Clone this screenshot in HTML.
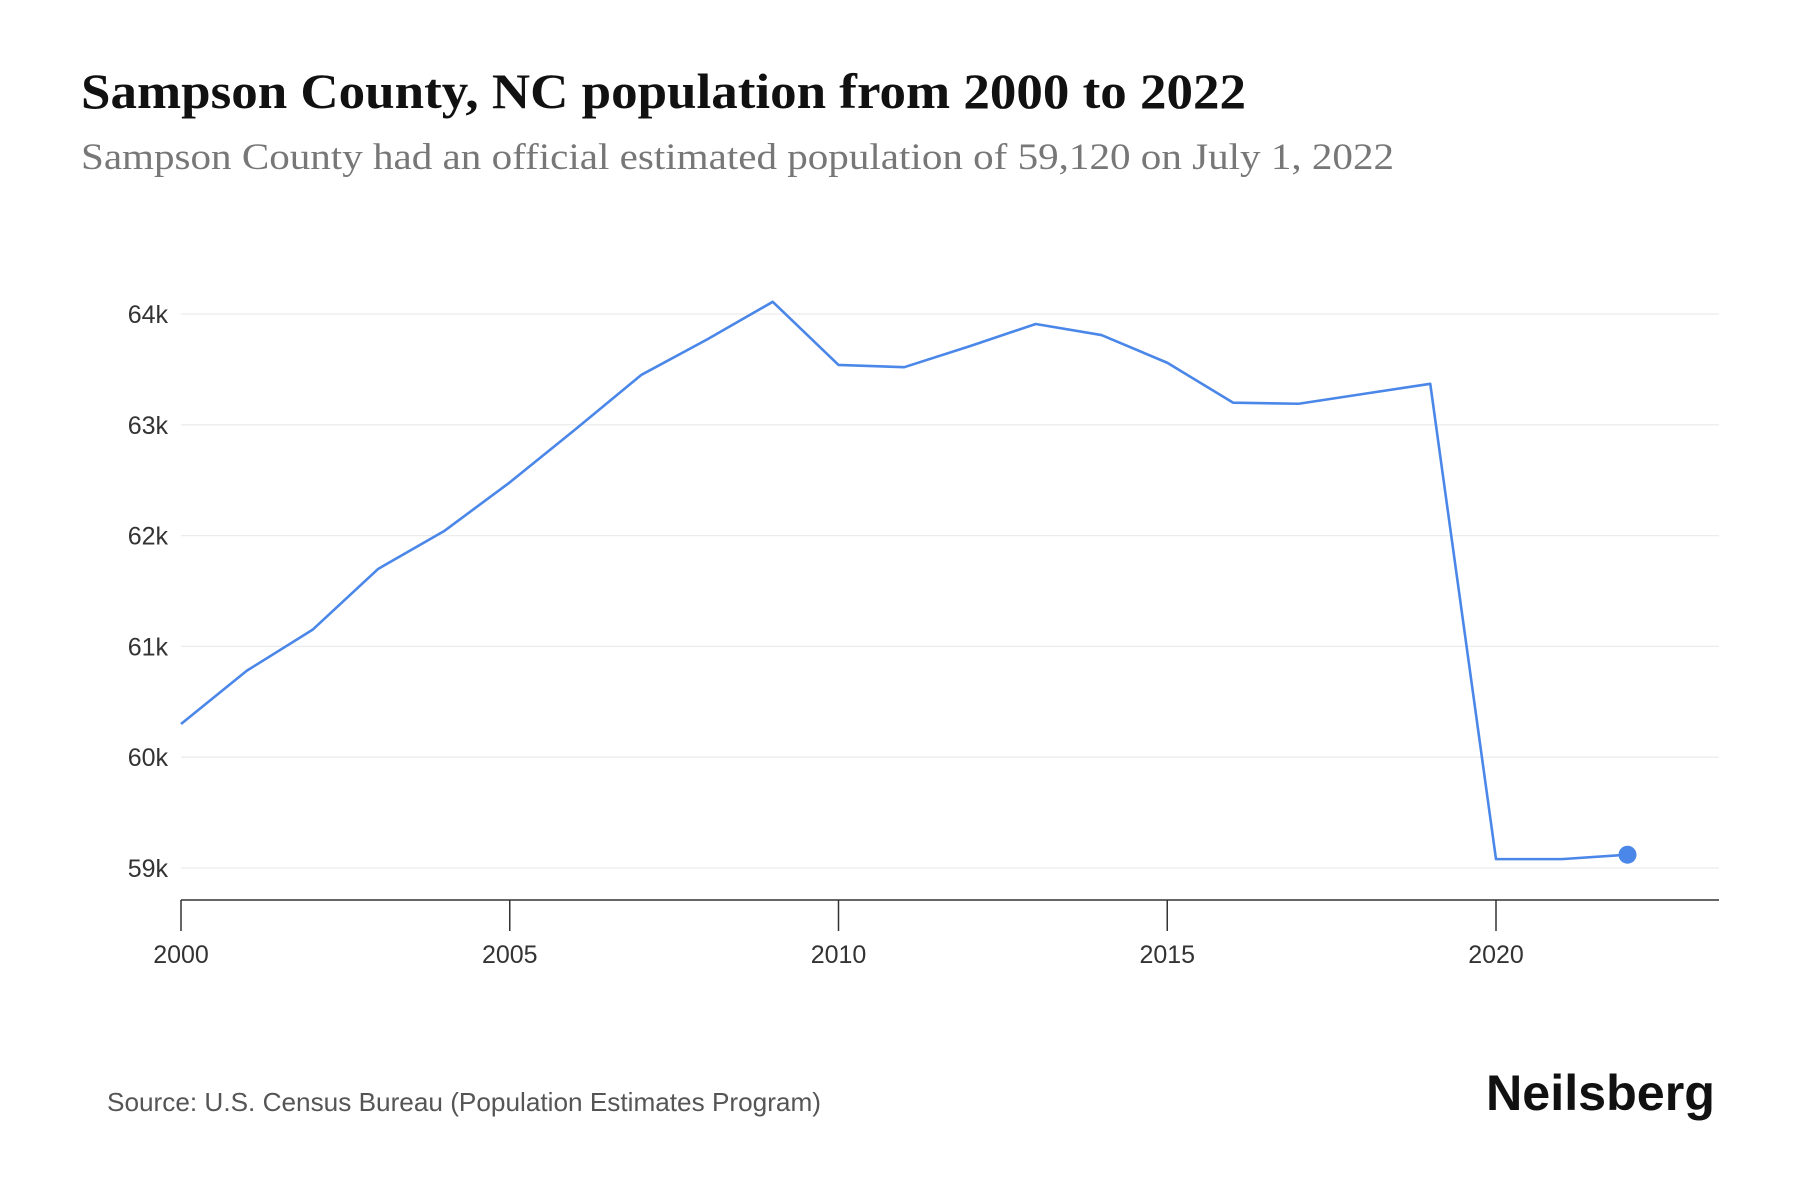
<!DOCTYPE html>
<html><head><meta charset="utf-8"><style>
body{margin:0;background:#fff;width:1800px;height:1200px;overflow:hidden;}
svg{display:block}
</style></head><body>
<svg width="1800" height="1200">
<text x="81" y="108" font-family="Liberation Serif, serif" font-weight="bold" font-size="50" fill="#111" textLength="1165" lengthAdjust="spacingAndGlyphs">Sampson County, NC population from 2000 to 2022</text>
<text x="81" y="169" font-family="Liberation Serif, serif" font-size="37" fill="#777" textLength="1313" lengthAdjust="spacingAndGlyphs">Sampson County had an official estimated population of 59,120 on July 1, 2022</text>
<g id="grid"></g><g id="yt"></g><g id="xt"></g><g id="plot"></g>
<text x="107" y="1111" font-family="Liberation Sans, sans-serif" font-size="26" fill="#555" textLength="714" lengthAdjust="spacingAndGlyphs">Source: U.S. Census Bureau (Population Estimates Program)</text>
<text x="1486" y="1110" font-family="Liberation Sans, sans-serif" font-weight="bold" font-size="50" fill="#111" textLength="229" lengthAdjust="spacingAndGlyphs">Neilsberg</text>
</svg>
<script>
const years=[2000,2001,2002,2003,2004,2005,2006,2007,2008,2009,2010,2011,2012,2013,2014,2015,2016,2017,2018,2019,2020,2021,2022];
const population=[60300,60780,61150,61700,62040,62480,62960,63450,63770,64110,63540,63520,63710,63910,63810,63560,63200,63190,63280,63370,59080,59080,59120];
const yTicks=[59000,60000,61000,62000,63000,64000];
const yTickLabels=["59k","60k","61k","62k","63k","64k"];
const xTicks=[2000,2005,2010,2015,2020];
const NS="http://www.w3.org/2000/svg";
const xs=y=>181+(y-2000)*65.75;
const ys=v=>868-(v-59000)*0.1108;
function mk(tag,attrs,parent,txt){const e=document.createElementNS(NS,tag);for(const k in attrs)e.setAttribute(k,attrs[k]);if(txt!==undefined)e.textContent=txt;document.getElementById(parent).appendChild(e);return e;}
yTicks.forEach((t,i)=>{
 const g=mk('line',{x1:181,x2:1719,y1:ys(t),y2:ys(t),stroke:'#ececec','stroke-width':1.3},'grid');
 
 
 const l=mk('text',{x:168,y:ys(t)+9,'text-anchor':'end','font-family':'Liberation Sans, sans-serif','font-size':25,fill:'#333'},'yt',yTickLabels[i]);
 
 
});
const ax=mk('line',{x1:181,x2:1719,y1:900,y2:900,stroke:'#333','stroke-width':1.5},'xt');


xTicks.forEach(t=>{
 const tk=mk('line',{x1:xs(t),x2:xs(t),y1:900,y2:931,stroke:'#333','stroke-width':1.5},'xt');
 
 
 const l=mk('text',{x:xs(t),y:963,'text-anchor':'middle','font-family':'Liberation Sans, sans-serif','font-size':25,fill:'#333'},'xt',String(t));
 
 
});
const pts=years.map((y,i)=>xs(y)+','+ys(population[i])).join(' ');
const pl=mk('polyline',{points:pts,fill:'none',stroke:'#4a87e8','stroke-width':2.6,'stroke-linejoin':'round'},'plot');


const n=years.length-1;
const dot=mk('circle',{cx:xs(years[n]),cy:ys(population[n]),r:9,fill:'#4a87e8'},'plot');


</script>
</body></html>
